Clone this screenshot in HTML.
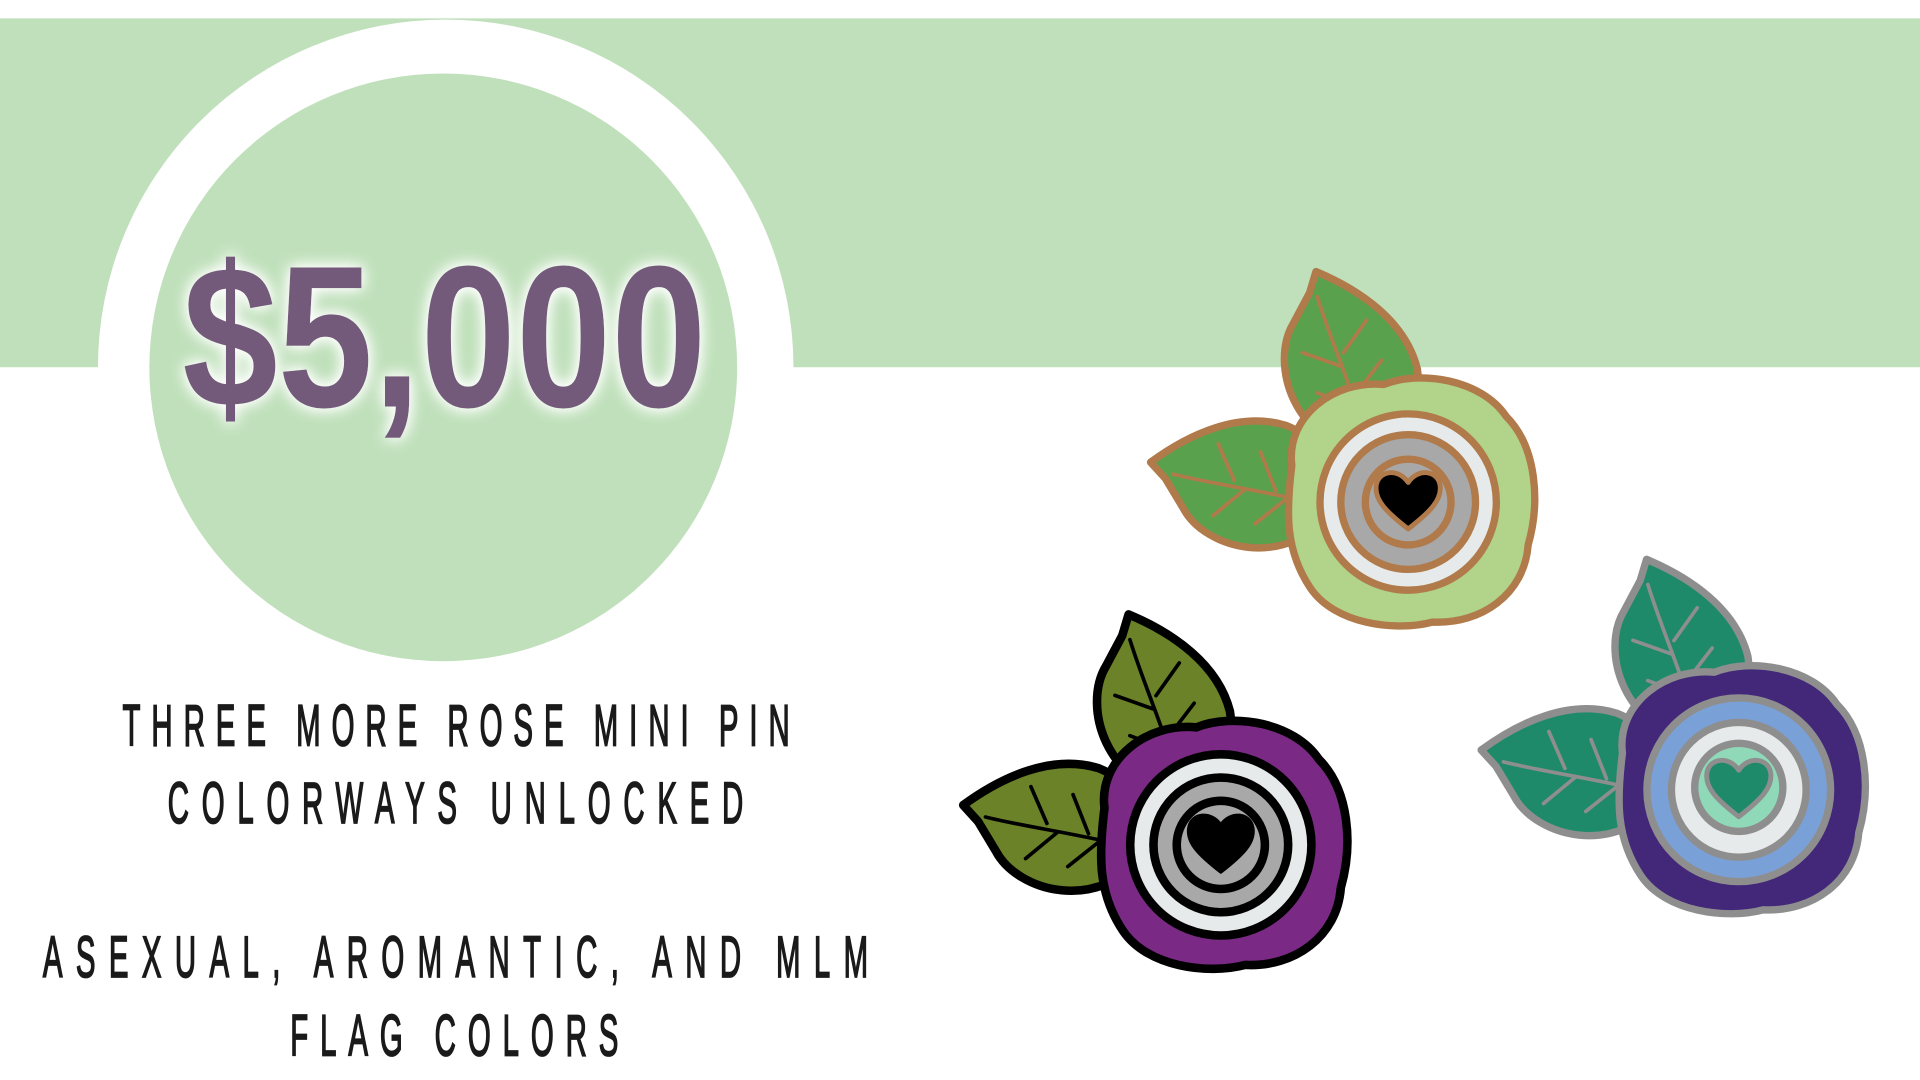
<!DOCTYPE html>
<html><head><meta charset="utf-8"><style>
html,body{margin:0;padding:0;background:#fff;width:1920px;height:1080px;overflow:hidden}
svg{display:block}
</style></head><body>
<svg width="1920" height="1080" viewBox="0 0 1568 882" xmlns="http://www.w3.org/2000/svg">
<defs>
<filter id="glow" x="-20%" y="-20%" width="140%" height="140%">
<feGaussianBlur in="SourceAlpha" stdDeviation="6" result="b"/>
<feFlood flood-color="#ffffff" flood-opacity="1"/>
<feComposite in2="b" operator="in" result="g"/>
<feMerge><feMergeNode in="g"/><feMergeNode in="g"/><feMergeNode in="SourceGraphic"/></feMerge>
</filter>
<path id="leaf" d="M0,0 C-60,-25 -58,-95 -30,-120 L-10,-140 L0,-155 C30,-130 58,-95 56,-55 C52,-25 30,-5 0,0 Z"/>
<path id="vein" d="M0,-10 C0,-60 -5,-100 -5,-135 M-2,-40 L-28,-60 M-3,-75 L-30,-95 M2,-50 L30,-70 M2,-85 L28,-105"/>
<path id="blob" d="M-95,-30 C-100,-70 -60,-100 -20,-96 C10,-108 60,-100 80,-70 C105,-45 108,0 98,35 C95,75 60,100 20,98 C-10,106 -60,100 -80,70 C-100,40 -100,10 -95,-30 Z"/>
<path id="heart" d="M0,22 C-18,8 -28,-2 -26,-14 C-24,-26 -8,-28 0,-16 C8,-28 24,-26 26,-14 C28,-2 18,8 0,22 Z"/>
</defs>
<rect x="0" y="0" width="1568" height="882" fill="#fff"/>
<rect x="0" y="15" width="1568" height="285" fill="#c0e0bb"/>
<circle cx="364" cy="300" r="284" fill="#fff"/>
<rect x="0" y="300" width="1568" height="300" fill="#fff"/>
<circle cx="362" cy="300" r="240" fill="#c0e0bb"/>
<text x="363" y="332" text-anchor="middle" font-family="Liberation Sans, sans-serif" font-weight="bold" font-size="165" fill="#735a7a" textLength="428" lengthAdjust="spacingAndGlyphs" filter="url(#glow)">$5,000</text>

<g font-family="Liberation Sans, sans-serif" font-size="48" fill="#1a1a1a" stroke="#1a1a1a" stroke-width="1.5" lengthAdjust="spacing">
<text transform="scale(0.5,1)" x="200" y="609" textLength="1090">THREE MORE ROSE MINI PIN</text>
<text transform="scale(0.5,1)" x="274" y="672" textLength="940">COLORWAYS UNLOCKED</text>
<text transform="scale(0.5,1)" x="70" y="798" textLength="1348">ASEXUAL, AROMANTIC, AND MLM</text>
<text transform="scale(0.5,1)" x="474" y="862" textLength="536">FLAG COLORS</text>
</g>

<!-- top rose -->
<g transform="translate(1150,410)" stroke="#b07a4a" stroke-width="6" stroke-linejoin="round" stroke-linecap="round">
<g transform="translate(-30,-40) rotate(-17)"><use href="#leaf" fill="#5aa14e"/><use href="#vein" fill="none" stroke-width="3"/></g>
<g transform="translate(-60,5) rotate(-76)"><use href="#leaf" fill="#5aa14e"/><use href="#vein" fill="none" stroke-width="3"/></g>
<use href="#blob" fill="#b2d38a"/>
<circle cx="0" cy="0" r="72" fill="#e6eaea"/>
<circle cx="0" cy="0" r="55" fill="#a8a8a8"/>
<circle cx="0" cy="0" r="35" fill="#a8a8a8"/>
<use href="#heart" fill="#000" stroke="#b07a4a" stroke-width="4"/>
</g>

<!-- purple rose -->
<g transform="translate(997,690)" stroke="#000" stroke-width="7" stroke-linejoin="round" stroke-linecap="round">
<g transform="translate(-30,-40) rotate(-17)"><use href="#leaf" fill="#6b8228"/><use href="#vein" fill="none" stroke-width="3"/></g>
<g transform="translate(-60,5) rotate(-76)"><use href="#leaf" fill="#6b8228"/><use href="#vein" fill="none" stroke-width="3"/></g>
<use href="#blob" fill="#7a2a84"/>
<circle cx="0" cy="0" r="74" fill="#e6eaea"/>
<circle cx="0" cy="0" r="55" fill="#a8a8a8"/>
<circle cx="0" cy="0" r="36" fill="#a8a8a8"/>
<use href="#heart" fill="#000" stroke-width="3"/>
</g>

<!-- blue rose -->
<g transform="translate(1420,645)" stroke="#8e8e8e" stroke-width="6" stroke-linejoin="round" stroke-linecap="round">
<g transform="translate(-30,-40) rotate(-17)"><use href="#leaf" fill="#1e8a6a"/><use href="#vein" fill="none" stroke-width="3"/></g>
<g transform="translate(-60,5) rotate(-76)"><use href="#leaf" fill="#1e8a6a"/><use href="#vein" fill="none" stroke-width="3"/></g>
<use href="#blob" fill="#43287a"/>
<circle cx="0" cy="0" r="75" fill="#7aa0d8"/>
<circle cx="0" cy="0" r="55" fill="#e6eaea"/>
<circle cx="0" cy="-2" r="36" fill="#8fd8b8"/>
<use href="#heart" fill="#1e8a6a" stroke-width="4"/>
</g>
</svg>
</body></html>
